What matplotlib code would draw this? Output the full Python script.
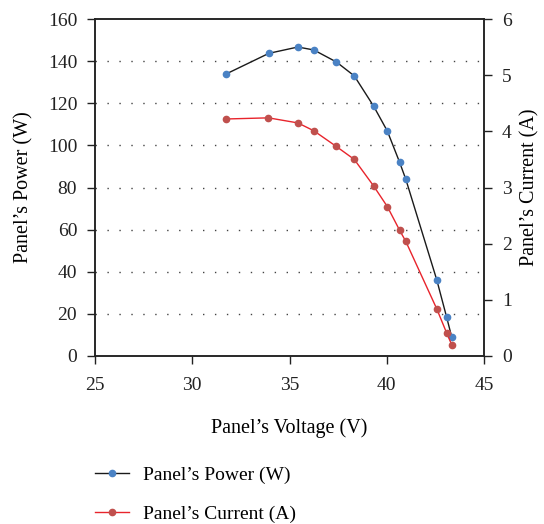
import matplotlib
matplotlib.use("Agg")
import matplotlib.pyplot as plt

plt.rcParams['font.family'] = ['Liberation Serif', 'DejaVu Serif']

voltage_p = [31.72, 33.94, 35.43, 36.25, 37.41, 38.33, 39.32, 40.03, 40.66, 40.98, 42.57, 43.08, 43.34]
power = [133.8, 143.7, 146.7, 145.3, 139.6, 133.0, 118.7, 106.8, 92.0, 83.9, 36.2, 18.4, 9.0]
voltage_i = [31.75, 33.92, 35.43, 36.25, 37.41, 38.33, 39.32, 40.03, 40.66, 40.98, 42.57, 43.08, 43.34]
current = [4.22, 4.24, 4.15, 4.01, 3.73, 3.50, 3.03, 2.66, 2.24, 2.04, 0.84, 0.41, 0.20]

x_ticks = [25, 30, 35, 40, 45]
y_left_ticks = [0, 20, 40, 60, 80, 100, 120, 140, 160]
y_right_ticks = [0, 1, 2, 3, 4, 5, 6]

FS = 14

fig = plt.figure(figsize=(5.44, 5.24), dpi=100)
ax = fig.add_axes([95/544, 1-356/524, (484-95)/544, (356-19)/524])
ax2 = ax.twinx()

for y in y_left_ticks[1:-1]:
    ax.axhline(y, color='#444444', lw=1.0, linestyle=(0, (1, 7.6)), zorder=0)

l1, = ax.plot(voltage_p, power, color='#1a1a1a', lw=1.0, marker='o', ms=4.5,
              mfc='#4a82c4', mec='#4a82c4', zorder=3)
l2, = ax2.plot(voltage_i, current, color='#e8242c', lw=1.0, marker='o', ms=4.5,
               mfc='#c0504d', mec='#c0504d', zorder=3)

ax.set_xlim(25, 45)
ax.set_ylim(0, 160)
ax2.set_ylim(0, 6)
ax.set_xticks(x_ticks)
ax.set_yticks(y_left_ticks)
ax2.set_yticks(y_right_ticks)

for a in (ax, ax2):
    a.tick_params(direction='out', length=5.8, width=1.0, labelsize=FS, colors='#222222', pad=7)
    for s in a.spines.values():
        s.set_linewidth(1.1)
        s.set_color('#222222')
ax.tick_params(axis='x', pad=9)

ax.set_xlabel('Panel\u2019s Voltage (V)', fontsize=14.5, labelpad=18)
ax.set_ylabel('Panel\u2019s Power (W)', fontsize=14.5, labelpad=10)
ax2.set_ylabel('Panel\u2019s Current (A)', fontsize=14.5, labelpad=6)

fig.legend([l1, l2], ['Panel\u2019s Power (W)', 'Panel\u2019s Current (A)'],
           loc='upper left', bbox_to_anchor=(77/544, 1-449/524), frameon=False,
           fontsize=FS, handlelength=1.75, labelspacing=1.1, handletextpad=0.72)

fig.savefig('out.png', dpi=100)
